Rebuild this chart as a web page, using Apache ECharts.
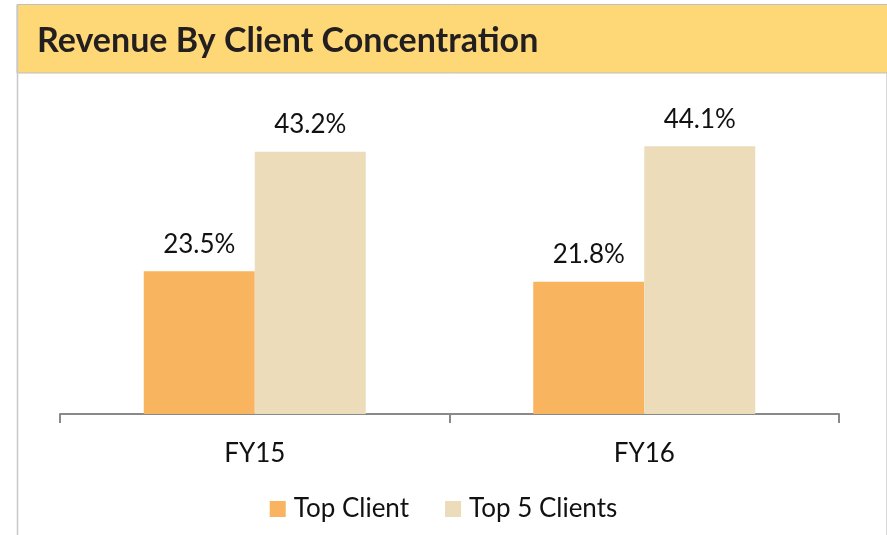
<!DOCTYPE html>
<html><head><meta charset="utf-8">
<script src="https://cdn.jsdelivr.net/npm/echarts@6/dist/echarts.min.js"></script>
<style>html,body{margin:0;padding:0;background:#fff}#c{width:887px;height:535px}</style>
</head><body><div id="c"></div>
<script>
const titleText = 'Revenue By Client Concentration';
const categories = ['FY15', 'FY16'];
const seriesNames = ['Top Client', 'Top 5 Clients'];
const topClient = [23.5, 21.8];
const top5Clients = [43.2, 44.1];
const colors = ['#F8B45F', '#ECDCBA'];

const chart = echarts.init(document.getElementById('c'), null, {renderer: 'canvas'});
const font = 'Lato, "Open Sans", sans-serif';
const fs = 26;
chart.setOption({
  animation: false,
  backgroundColor: '#fff',
  graphic: [
    {type: 'rect', shape: {x: 17, y: 4.5, width: 875, height: 68.5}, style: {fill: '#FED876', stroke: '#BFBFBF', lineWidth: 1}, z: 0},
    {type: 'line', shape: {x1: 17.5, y1: 5, x2: 17.5, y2: 535}, style: {stroke: '#C8C8C8', lineWidth: 1.5}},
    {type: 'line', shape: {x1: 886.5, y1: 73, x2: 886.5, y2: 535}, style: {stroke: '#D8D8D8', lineWidth: 1}},
    {type: 'text', left: 37, top: 24, style: {text: titleText, font: 'bold 34px ' + font, fill: '#231F20'}}
  ],
  legend: {
    top: 491, left: 'center', itemWidth: 16, itemHeight: 16, itemGap: 36,
    icon: 'rect',
    textStyle: {fontFamily: font, fontSize: fs, color: '#111', padding: [0, 0, 0, 3]},
    data: seriesNames
  },
  grid: {left: 60, right: 48, top: 110.5, bottom: 121, containLabel: false},
  xAxis: {
    type: 'category', data: categories,
    axisLine: {lineStyle: {color: '#898989', width: 2}},
    axisTick: {show: true, length: 9, lineStyle: {color: '#898989', width: 2}},
    axisLabel: {fontFamily: font, fontSize: fs, color: '#111', margin: 27}
  },
  yAxis: {type: 'value', min: 0, max: 50, show: false, splitLine: {show: false}},
  series: [
    {name: seriesNames[0], type: 'bar', data: topClient, barGap: '0%', barCategoryGap: '43%',
     itemStyle: {color: colors[0]},
     label: {show: true, position: 'top', distance: 14, formatter: p => p.value.toFixed(1) + '%', fontFamily: font, fontSize: fs, color: '#111'}},
    {name: seriesNames[1], type: 'bar', data: top5Clients, barGap: '0%', barCategoryGap: '43%',
     itemStyle: {color: colors[1]},
     label: {show: true, position: 'top', distance: 14, formatter: p => p.value.toFixed(1) + '%', fontFamily: font, fontSize: fs, color: '#111'}}
  ]
});
</script></body></html>
